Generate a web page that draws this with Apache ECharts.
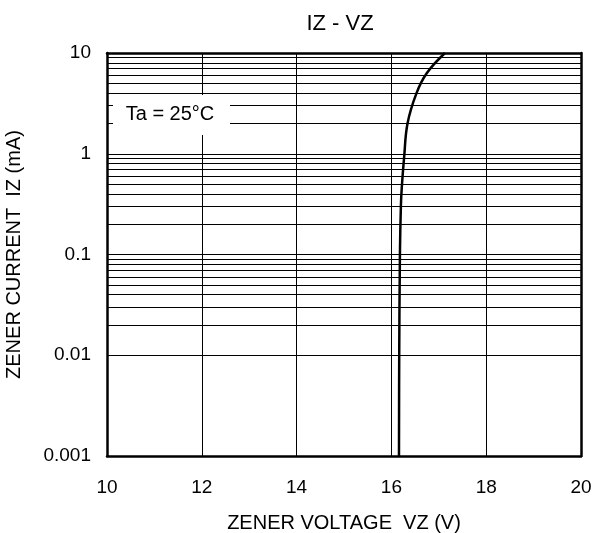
<!DOCTYPE html>
<html><head><meta charset="utf-8">
<script src="https://cdn.jsdelivr.net/npm/echarts@6/dist/echarts.min.js"></script>
<style>html,body{margin:0;padding:0;background:#fff}#c{width:592px;height:533px}</style>
</head><body><div id="c"></div>
<script>
var titleText = 'IZ - VZ';
var xName = 'ZENER VOLTAGE  VZ (V)';
var yName = 'ZENER CURRENT  IZ (mA)';
var noteText = 'Ta = 25°C';
var xTicks = [10, 12, 14, 16, 18, 20];
var yDecades = [0.001, 0.01, 0.1, 1, 10];
var minorMult = [2, 3, 4, 5, 6, 7, 8, 9];
var vz = [16.16, 16.165, 16.18, 16.2, 16.22, 16.27, 16.34, 16.53, 16.745, 17.13];
var iz = [0.001, 0.01, 0.1, 0.3, 0.47, 0.94, 2.0, 4.0, 6.3, 10];

var curve = vz.map(function (v, i) { return [v, iz[i]]; });
var minorLines = [];
yDecades.slice(0, -1).forEach(function (d) {
  minorMult.forEach(function (m) { minorLines.push({ yAxis: +(d * m).toPrecision(3) }); });
});
var FONT = 'Liberation Sans, Arial, sans-serif';
var xMin = xTicks[0], xMax = xTicks[xTicks.length - 1];
var yMin = yDecades[0], yMax = yDecades[yDecades.length - 1];
var frameLine = { show: true, lineStyle: { color: '#000', width: 2.5 } };
var chart = echarts.init(document.getElementById('c'));
chart.setOption({
  animation: false,
  title: { text: titleText, left: 335, top: 8, textAlign: 'center',
    textStyle: { fontFamily: FONT, fontSize: 22, fontWeight: 'normal', color: '#000' } },
  grid: { left: 107, right: 11, top: 53, bottom: 77, containLabel: false, outerBoundsMode: 'none' },
  xAxis: [{
    type: 'value', min: xMin, max: xMax, interval: 2,
    name: xName, nameLocation: 'middle', nameGap: 57,
    nameTextStyle: { fontFamily: FONT, fontSize: 20, color: '#000' },
    axisLine: frameLine,
    axisTick: { show: false },
    axisLabel: { fontFamily: FONT, fontSize: 19, color: '#000', margin: 22 },
    splitLine: { show: true, lineStyle: { color: '#000', width: 1 } }
  }, {
    type: 'value', min: xMin, max: xMax, position: 'top',
    axisLine: frameLine, axisTick: { show: false }, axisLabel: { show: false }, splitLine: { show: false }
  }],
  yAxis: [{
    type: 'log', logBase: 10, min: yMin, max: yMax,
    name: yName, nameLocation: 'middle', nameGap: 83,
    nameTextStyle: { fontFamily: FONT, fontSize: 20, color: '#000' },
    axisLine: frameLine,
    axisTick: { show: false },
    axisLabel: { fontFamily: FONT, fontSize: 19, color: '#000', margin: 16,
      formatter: function (v) { return String(+v.toPrecision(3)); } },
    splitLine: { show: true, lineStyle: { color: '#000', width: 1 } }
  }, {
    type: 'log', logBase: 10, min: yMin, max: yMax, position: 'right',
    axisLine: frameLine, axisTick: { show: false }, axisLabel: { show: false }, splitLine: { show: false }
  }],
  graphic: [
    { type: 'rect', shape: { x: 113, y: 95, width: 117, height: 40 }, style: { fill: '#fff' }, z: 100 },
    { type: 'text', x: 170, y: 114, z: 101,
      style: { text: noteText, fontFamily: FONT, fontSize: 20, fill: '#000', align: 'center', verticalAlign: 'middle' } }
  ],
  series: [{
    type: 'line', data: curve, smooth: 0.4, symbol: 'none', z: 5,
    xAxisIndex: 0, yAxisIndex: 0,
    lineStyle: { color: '#000', width: 2.5 },
    markLine: { silent: true, symbol: 'none', label: { show: false }, animation: false,
      lineStyle: { color: '#000', width: 1, type: 'solid' }, data: minorLines }
  }]
});
</script></body></html>
